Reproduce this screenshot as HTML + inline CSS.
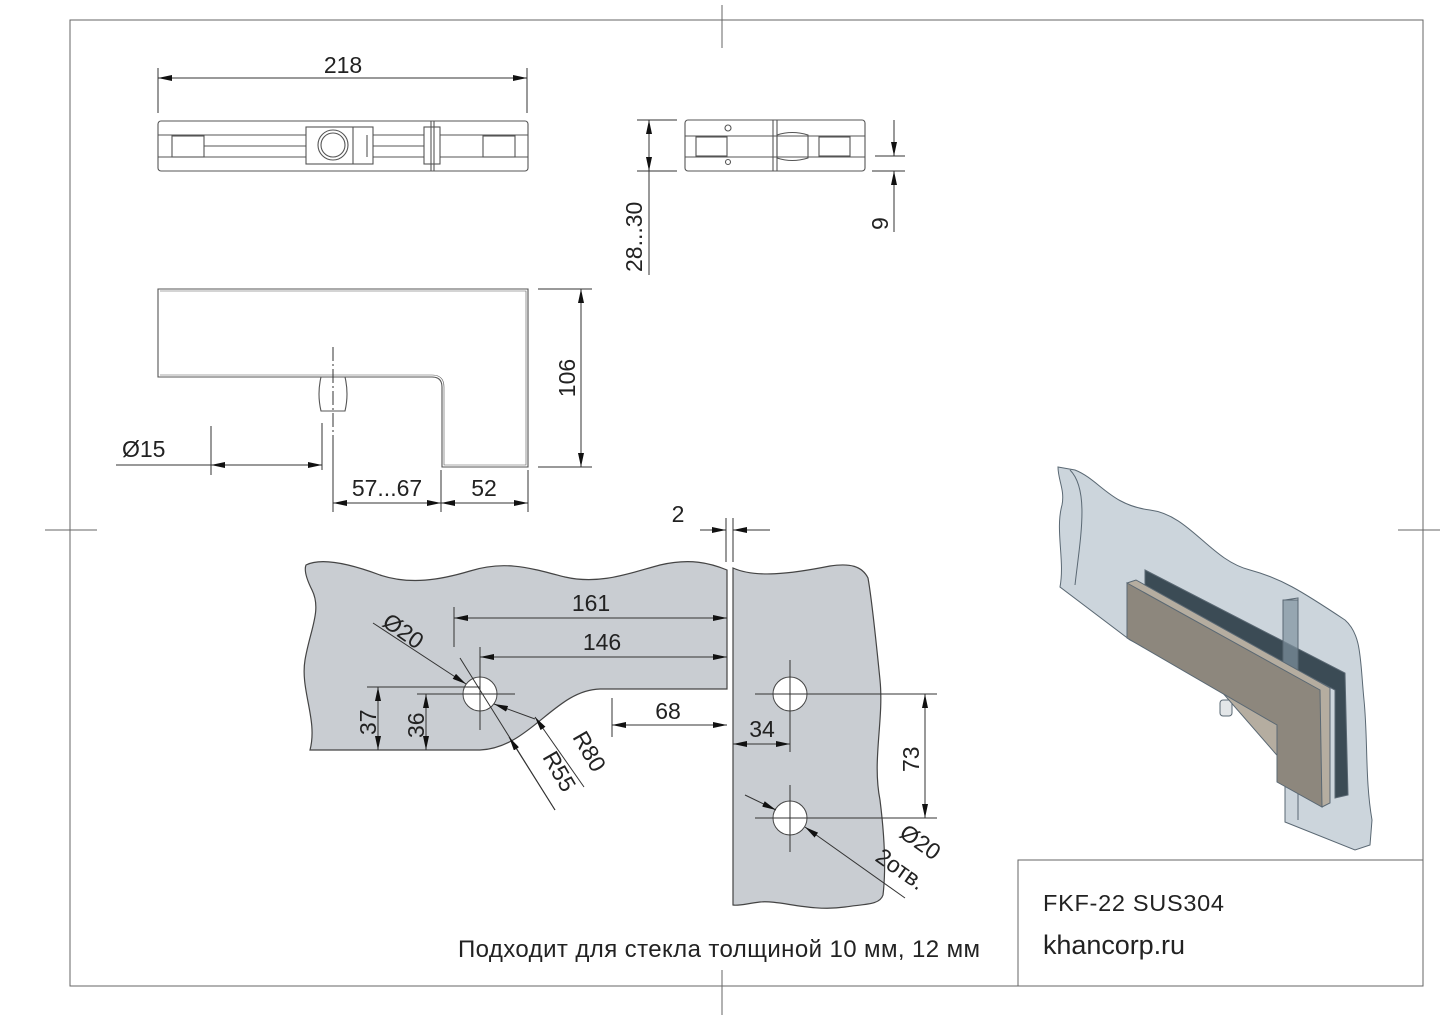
<!DOCTYPE html>
<html><head><meta charset="utf-8"><style>
html,body{margin:0;padding:0;background:#fff}
svg{display:block}
text{font-family:"Liberation Sans","DejaVu Sans",sans-serif;fill:#222}
</style></head><body>
<svg width="1444" height="1021" viewBox="0 0 1444 1021" xmlns="http://www.w3.org/2000/svg">
<defs>
<marker id="a" viewBox="0 0 14 6" refX="14" refY="3" markerWidth="14" markerHeight="6" orient="auto-start-reverse" markerUnits="userSpaceOnUse"><path d="M0,0 L14,3 L0,6 z" fill="#111"/></marker>
</defs>
<g stroke="#666" stroke-width="1" fill="none">
<rect x="70" y="20" width="1353" height="966"/>
<line x1="722" y1="5" x2="722" y2="48"/><line x1="722" y1="970" x2="722" y2="1015"/>
<line x1="45" y1="530" x2="97" y2="530"/><line x1="1398" y1="530" x2="1440" y2="530"/>
<rect x="1018" y="860" width="405" height="126"/>
</g>
<text x="1043" y="911" font-size="23.5" textLength="181">FKF-22 SUS304</text>
<text x="1043" y="954" font-size="27" textLength="142">khancorp.ru</text>
<text x="458" y="957" font-size="24" textLength="522">Подходит для стекла толщиной 10 мм, 12 мм</text>

<!-- top view -->
<g stroke="#555" stroke-width="1.1" fill="none">
<rect x="158" y="121" width="370" height="50" rx="3"/>
<line x1="158" y1="135" x2="306" y2="135"/><line x1="373" y1="135" x2="424" y2="135"/><line x1="440" y1="135" x2="528" y2="135"/>
<line x1="158" y1="157" x2="306" y2="157"/><line x1="373" y1="157" x2="424" y2="157"/><line x1="440" y1="157" x2="528" y2="157"/>
<rect x="172" y="136" width="32" height="21"/><rect x="483" y="136" width="32" height="21"/>
<line x1="204" y1="146" x2="306" y2="146"/><line x1="373" y1="146" x2="424" y2="146"/>
<rect x="306" y="127" width="67" height="37"/><circle cx="333" cy="145" r="15"/><circle cx="333" cy="145" r="12"/>
<line x1="353" y1="127" x2="353" y2="164"/><line x1="367" y1="135" x2="367" y2="157"/>
<rect x="424" y="127" width="16" height="37"/><line x1="431" y1="121" x2="431" y2="171"/><line x1="434" y1="121" x2="434" y2="171"/>
</g>
<g stroke="#333" stroke-width="1" fill="none">
<line x1="158" y1="68" x2="158" y2="113"/><line x1="527" y1="68" x2="527" y2="113"/>
<line x1="158" y1="78" x2="527" y2="78" marker-start="url(#a)" marker-end="url(#a)"/>
</g>
<text x="343" y="73" font-size="23" text-anchor="middle">218</text>

<!-- side view -->
<g stroke="#555" stroke-width="1.1" fill="none">
<rect x="685" y="120" width="180" height="51" rx="3"/>
<line x1="685" y1="136" x2="865" y2="136"/><line x1="685" y1="157" x2="865" y2="157"/>
<rect x="696" y="137" width="31" height="19"/><rect x="819" y="137" width="31" height="19"/>
<line x1="773" y1="120" x2="773" y2="171"/><line x1="777" y1="120" x2="777" y2="171"/>
<path d="M777,135 Q792,130 808,135 L808,158 Q792,163 777,158 Z"/>
<circle cx="728" cy="128" r="3"/><circle cx="728" cy="162" r="2.5"/>
</g>
<g stroke="#333" stroke-width="1" fill="none">
<line x1="637" y1="120" x2="677" y2="120"/><line x1="637" y1="171" x2="677" y2="171"/>
<line x1="649" y1="120" x2="649" y2="275"/>
<line x1="649" y1="145" x2="649" y2="120" marker-end="url(#a)"/><line x1="649" y1="145" x2="649" y2="171" marker-end="url(#a)"/>
<line x1="875" y1="156" x2="905" y2="156"/><line x1="872" y1="171" x2="905" y2="171"/>
<line x1="894" y1="120" x2="894" y2="156" marker-end="url(#a)"/><line x1="894" y1="232" x2="894" y2="171" marker-end="url(#a)"/>
</g>
<text transform="translate(642,272) rotate(-90)" font-size="23">28...30</text>
<text transform="translate(888,230) rotate(-90)" font-size="23">9</text>

<!-- L view -->
<g stroke="#555" stroke-width="1.1" fill="none">
<path d="M158,289 L528,289 L528,467 L442,467 L442,387 Q442,377 432,377 L158,377 Z"/>
<path d="M160,291 L526,291 L526,465 L444,465 L444,387 Q444,375 432,375 L160,375" stroke-width="0.6"/>
<path d="M321,377 L345,377 Q349,394 345,411 L321,411 Q317,394 321,377 Z"/>
</g>
<g stroke="#333" stroke-width="1" fill="none">
<line x1="333" y1="347" x2="333" y2="440" stroke-dasharray="14,3,2,3"/>
<line x1="211" y1="426" x2="211" y2="475"/><line x1="322" y1="423" x2="322" y2="470"/>
<line x1="116" y1="465" x2="322" y2="465"/>
<line x1="260" y1="465" x2="211" y2="465" marker-end="url(#a)"/><line x1="270" y1="465" x2="322" y2="465" marker-end="url(#a)"/>
<line x1="333" y1="440" x2="333" y2="512"/><line x1="441" y1="470" x2="441" y2="512"/><line x1="528" y1="470" x2="528" y2="512"/>
<line x1="333" y1="503" x2="441" y2="503" marker-start="url(#a)" marker-end="url(#a)"/>
<line x1="441" y1="503" x2="528" y2="503" marker-start="url(#a)" marker-end="url(#a)"/>
<line x1="538" y1="289" x2="592" y2="289"/><line x1="538" y1="467" x2="592" y2="467"/>
<line x1="581" y1="289" x2="581" y2="467" marker-start="url(#a)" marker-end="url(#a)"/>
</g>
<text x="122" y="457" font-size="23">Ø15</text>
<text x="387" y="496" font-size="23" text-anchor="middle">57...67</text>
<text x="484" y="496" font-size="23" text-anchor="middle">52</text>
<text transform="translate(575,378) rotate(-90)" font-size="23" text-anchor="middle">106</text>

<!-- glass pieces -->
<g stroke="#444" stroke-width="1.2" fill="#c9cdd2">
<path d="M306,565 C320,558 345,562 380,575 C410,585 440,580 470,571 C505,560 530,568 565,577 C600,585 630,573 660,565 C690,558 710,563 727,570 L727,689 L600,689 C555,690 530,748 480,750 L310,750 C318,720 300,690 305,660 C310,630 322,610 312,590 C306,578 304,570 306,565 Z"/>
<path d="M733,568 C755,578 790,574 830,566 C850,563 862,566 868,578 C872,600 876,640 880,680 C884,720 872,760 880,800 C885,840 886,870 883,895 C880,905 865,904 845,907 C810,912 780,900 760,902 C745,904 738,906 733,905 Z"/>
</g>
<g stroke="#444" stroke-width="1" fill="#fff">
<circle cx="480" cy="694" r="17"/><circle cx="790" cy="694" r="17"/><circle cx="790" cy="818" r="17"/>
</g>
<g stroke="#333" stroke-width="1" fill="none">
<line x1="726" y1="518" x2="726" y2="562"/><line x1="733" y1="518" x2="733" y2="562"/>
<line x1="700" y1="530" x2="726" y2="530" marker-end="url(#a)"/><line x1="770" y1="530" x2="733" y2="530" marker-end="url(#a)"/>
<line x1="454" y1="607" x2="454" y2="647"/>
<line x1="454" y1="618" x2="727" y2="618" marker-start="url(#a)" marker-end="url(#a)"/>
<line x1="480" y1="647" x2="480" y2="730"/>
<line x1="480" y1="657" x2="727" y2="657" marker-start="url(#a)" marker-end="url(#a)"/>
<line x1="417" y1="694" x2="515" y2="694"/>
<line x1="367" y1="687" x2="480" y2="687"/>
<line x1="378" y1="687" x2="378" y2="750" marker-start="url(#a)" marker-end="url(#a)"/>
<line x1="426" y1="694" x2="426" y2="750" marker-start="url(#a)" marker-end="url(#a)"/>
<line x1="373" y1="623" x2="466" y2="684" marker-end="url(#a)"/>
<line x1="535" y1="719" x2="494" y2="704" marker-end="url(#a)"/>
<line x1="460" y1="658" x2="555" y2="810"/>
<line x1="584" y1="787" x2="535" y2="717" marker-end="url(#a)"/>
<line x1="555" y1="810" x2="509" y2="737" marker-end="url(#a)"/>
<line x1="612" y1="698" x2="612" y2="737"/>
<line x1="612" y1="725" x2="727" y2="725" marker-start="url(#a)" marker-end="url(#a)"/>
<line x1="733" y1="744" x2="790" y2="744" marker-start="url(#a)" marker-end="url(#a)"/>
<line x1="790" y1="660" x2="790" y2="752"/><line x1="755" y1="694" x2="937" y2="694"/>
<line x1="790" y1="785" x2="790" y2="852"/><line x1="755" y1="818" x2="937" y2="818"/>
<line x1="925" y1="694" x2="925" y2="818" marker-start="url(#a)" marker-end="url(#a)"/>
<line x1="745" y1="795" x2="776" y2="810" marker-end="url(#a)"/>
<line x1="905" y1="898" x2="805" y2="827" marker-end="url(#a)"/>
</g>
<text x="591" y="611" font-size="23" text-anchor="middle">161</text>
<text x="602" y="650" font-size="23" text-anchor="middle">146</text>
<text x="668" y="719" font-size="23" text-anchor="middle">68</text>
<text x="762" y="737" font-size="23" text-anchor="middle">34</text>
<text x="678" y="522" font-size="23" text-anchor="middle">2</text>
<text transform="translate(376,735) rotate(-90)" font-size="23">37</text>
<text transform="translate(424,738) rotate(-90)" font-size="23">36</text>
<text transform="translate(919,772) rotate(-90)" font-size="23">73</text>
<text transform="translate(381,625) rotate(35)" font-size="23">Ø20</text>
<text transform="translate(572,737) rotate(60)" font-size="23">R80</text>
<text transform="translate(542,757) rotate(60)" font-size="23">R55</text>
<text transform="translate(898,836) rotate(35)" font-size="23">Ø20</text>
<text transform="translate(874,860) rotate(35)" font-size="23">2отв.</text>

<!-- 3D render -->
<g stroke="#5a6873" stroke-width="1">
<path d="M1058,467 L1075,470 C1100,480 1110,505 1150,510 C1190,515 1210,560 1250,570 C1280,578 1300,590 1345,620 C1362,635 1360,660 1364,700 C1368,740 1365,780 1372,820 L1370,845 L1355,850 L1285,822 L1285,720 L1130,640 L1060,587 C1065,560 1055,530 1062,505 C1065,490 1058,480 1058,467 Z" fill="#c3ced6" fill-opacity="0.85"/>
<path d="M1070,470 C1090,490 1080,540 1075,585" fill="none"/>
<path d="M1285,600 L1298,598 L1298,820" fill="none"/>
<path d="M1145,570 L1345,673 L1348,795 L1335,798 L1335,690 L1145,590 Z" fill="#3b4b55"/>
<path d="M1283,600 L1298,600 L1298,690 L1283,685 Z" fill="#7f929e" fill-opacity="0.7"/>
<rect x="1220" y="700" width="12" height="16" rx="3" fill="#e3e6e8"/>
<path d="M1127,583 L1136,580 L1330,688 L1330,803 L1322,807 Z" fill="#b5ada0"/>
<path d="M1127,583 L1320,690 L1322,807 L1277,782 L1277,725 L1127,638 Z" fill="#8d877d"/>
</g>
</svg>
</body></html>
